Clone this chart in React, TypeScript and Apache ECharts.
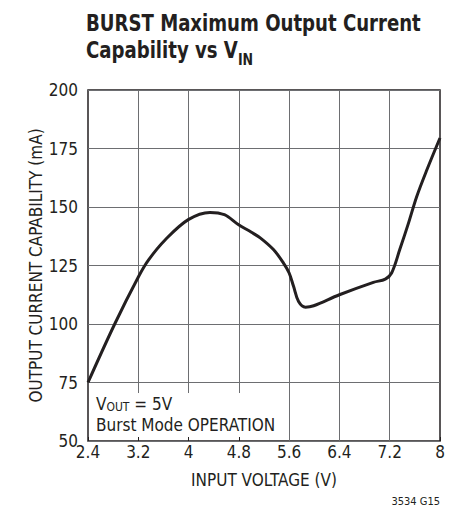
import React, { useEffect, useRef } from "react";
import * as echarts from "echarts";

const FONT = "'DejaVu Sans Condensed', 'Roboto', sans-serif";
const INK = "#231f20";

const voltage = [2.4, 2.825, 3.205, 3.364, 3.63, 3.995, 4.34, 4.57, 4.79, 5.0, 5.14, 5.35, 5.51, 5.6, 5.67, 5.75, 5.86, 5.99, 6.4, 6.94, 7.13, 7.23, 7.36, 7.5, 7.63, 7.79, 8.0];
const current = [75, 100, 120.3, 127.4, 136, 144.6, 147.7, 146.7, 142.5, 139.2, 136.8, 131.8, 126, 121.8, 116.1, 109.6, 107.2, 107.8, 112.5, 117.8, 119.2, 121.8, 131.8, 143.2, 154.5, 165.8, 179.5];

const xTicks = [3.2, 4, 4.8, 5.6, 6.4, 7.2];
const gridStart = [70.5, 70.5, 70.5, 50, 50, 50];

export default function App() {
  const ref = useRef<HTMLDivElement>(null);
  useEffect(() => {
    const chart = echarts.init(ref.current!, null, { renderer: "svg" });
    const pts = voltage.map((v, i) => [v, current[i]]);
    chart.setOption({
      animation: false,
      backgroundColor: "#ffffff",
      textStyle: { fontFamily: FONT },
      grid: { left: 88, top: 90, width: 352, height: 351, show: true, borderColor: INK, borderWidth: 1.5, backgroundColor: "transparent" },
      xAxis: {
        type: "value", min: 2.4, max: 8, interval: 0.8,
        axisLine: { show: false },
        axisTick: { show: true, inside: true, length: 4, lineStyle: { color: INK } },
        splitLine: { show: false },
        axisLabel: { color: INK, fontSize: 17, fontFamily: FONT, margin: 2, formatter: (v: number) => String(+v.toFixed(1)) },
        name: "INPUT VOLTAGE (V)", nameLocation: "middle", nameGap: 30, nameMoveOverlap: false,
        nameTextStyle: { color: INK, fontSize: 17, fontFamily: FONT },
      },
      yAxis: {
        type: "value", min: 50, max: 200, interval: 25,
        axisLine: { show: false },
        axisTick: { show: false },
        splitLine: { show: true, lineStyle: { color: "#6d6e71", width: 1 } },
        axisLabel: { color: INK, fontSize: 17, fontFamily: FONT, margin: 10 },
        name: "OUTPUT CURRENT CAPABILITY (mA)", nameLocation: "middle", nameGap: 44, nameMoveOverlap: false,
        nameTextStyle: { color: INK, fontSize: 17, fontFamily: FONT },
      },
      series: [
        {
          type: "line", data: [], silent: true,
          markLine: {
            silent: true, symbol: "none", label: { show: false },
            lineStyle: { color: "#6d6e71", width: 1, type: "solid" },
            data: xTicks.map((x, i) => [{ coord: [x, gridStart[i]] }, { coord: [x, 200] }]),
          },
        },
        {
          type: "line", data: pts, smooth: 0.35, showSymbol: false, silent: true,
          lineStyle: { color: INK, width: 3 }, z: 5,
        },
      ],
      graphic: [
        {
          type: "text", x: 86, y: 12, scaleX: 0.875,
          style: { text: "BURST Maximum Output Current", fontFamily: FONT, fontWeight: "bold", fontSize: 23, fill: INK },
        },
        {
          type: "text", x: 86, y: 39, scaleX: 0.875,
          style: {
            text: "{a|Capability vs V}{s|IN}",
            rich: {
              a: { fontFamily: FONT, fontWeight: "bold", fontSize: 23, fill: INK, verticalAlign: "bottom" },
              s: { fontFamily: FONT, fontWeight: "bold", fontSize: 16, fill: INK, padding: [0, 0, -6, 0], verticalAlign: "bottom" },
            },
          },
        },
        {
          type: "text", left: 96, top: 395,
          style: {
            text: "{a|V}{s|OUT}{a| = 5V}\n{a|Burst Mode OPERATION}",
            rich: {
              a: { fontFamily: FONT, fontSize: 17, fill: INK, lineHeight: 21 },
              s: { fontFamily: FONT, fontSize: 12, fill: INK, lineHeight: 21, padding: [6, 0, 0, 0] },
            },
          },
        },
        {
          type: "text", right: 10, top: 496,
          style: { text: "3534 G15", fontFamily: FONT, fontSize: 11, fill: INK },
        },
      ],
    });
    return () => chart.dispose();
  }, []);
  return <div ref={ref} style={{ position: "fixed", left: 0, top: 0, width: 450, height: 508 }} />;
}
